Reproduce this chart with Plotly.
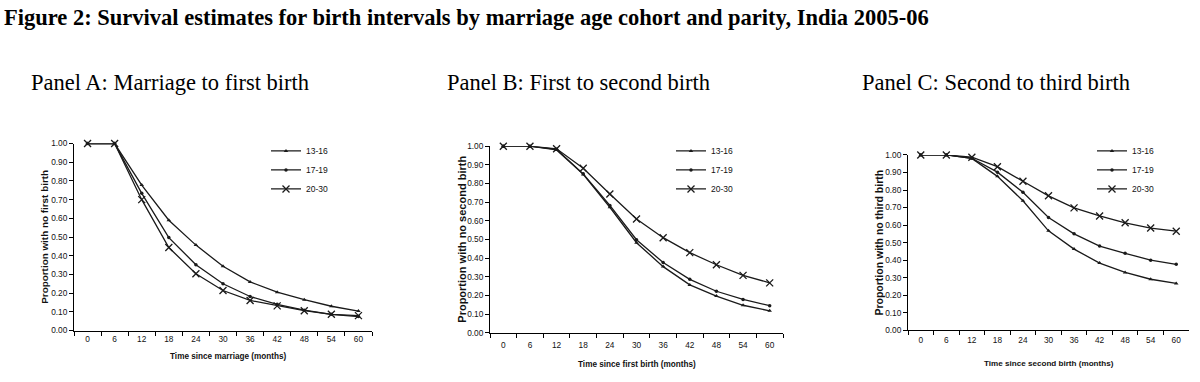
import plotly.graph_objects as go

months = ["0", "6", "12", "18", "24", "30", "36", "42", "48", "54", "60"]
cohorts = ["13-16", "17-19", "20-30"]

# Panel A: Marriage to first birth
a_13_16 = [1.00, 1.00, 0.778, 0.590, 0.457, 0.344, 0.260, 0.205, 0.165, 0.130, 0.104]
a_17_19 = [1.00, 1.00, 0.734, 0.497, 0.352, 0.250, 0.182, 0.140, 0.109, 0.087, 0.075]
a_20_30 = [1.00, 1.00, 0.700, 0.444, 0.304, 0.214, 0.161, 0.132, 0.106, 0.087, 0.080]

# Panel B: First to second birth
b_13_16 = [1.00, 1.00, 0.980, 0.849, 0.673, 0.483, 0.355, 0.257, 0.197, 0.148, 0.118]
b_17_19 = [1.00, 1.00, 0.983, 0.852, 0.683, 0.499, 0.377, 0.287, 0.223, 0.179, 0.146]
b_20_30 = [1.00, 1.00, 0.986, 0.882, 0.744, 0.610, 0.510, 0.430, 0.365, 0.308, 0.268]

# Panel C: Second to third birth
c_13_16 = [1.00, 1.00, 0.980, 0.878, 0.739, 0.567, 0.463, 0.383, 0.330, 0.291, 0.267]
c_17_19 = [1.00, 1.00, 0.981, 0.902, 0.787, 0.643, 0.550, 0.480, 0.439, 0.400, 0.376]
c_20_30 = [1.00, 1.00, 0.987, 0.933, 0.850, 0.767, 0.698, 0.652, 0.613, 0.583, 0.565]

main_title = "Figure 2: Survival estimates for birth intervals by marriage age cohort and parity, India 2005-06"
panel_titles = ["Panel A: Marriage to first birth", "Panel B: First to second birth", "Panel C: Second to third birth"]
x_titles = ["Time since marriage (months)", "Time since first birth (months)", "Time since second birth (months)"]
y_titles = ["Proportion with no first birth", "Proportion with no second birth", "Proportion with no third birth"]

W, H = 1200, 382
SANS = "Liberation Sans, Arial, sans-serif"
SERIF = "Liberation Serif, Times New Roman, serif"
LINE = "#1a1a1a"
TXT = "#111"

def px_x(p):
    return p / W

def px_y(p):
    return 1 - p / H

# pixel geometry for each panel: (x0, x1, y_at_0, y_at_1)
panels = [
    (74, 372, 334.3, 142.3),
    (490, 783, 336.7, 145.0),
    (908, 1189, 334.0, 154.0),
]
x_label_standoff = [0, 4, 2]
legend_pos = [(266, 135), (671, 135), (1092, 135)]
ytitle_pos = [(45, 238), (462, 241), (879, 244)]
ytitle_size = [9.9, 11, 10.5]
xtitle_pos = [(228, 360.5), (637, 369.5), (1049, 368)]
xtitle_size = [8.2, 8.2, 8.1]
ptitle_pos = [(170, 80), (578, 80), (996, 80)]

series = [
    [a_13_16, a_17_19, a_20_30],
    [b_13_16, b_17_19, b_20_30],
    [c_13_16, c_17_19, c_20_30],
]
markers = [
    dict(symbol="triangle-up", size=4, color=LINE),
    dict(symbol="circle", size=3.5, color=LINE),
    dict(symbol="x-thin", size=7, color=LINE, line=dict(width=1.3, color=LINE)),
]

fig = go.Figure()
for i, panel_series in enumerate(series):
    sfx = "" if i == 0 else str(i + 1)
    for j, vals in enumerate(panel_series):
        fig.add_trace(go.Scatter(
            x=months, y=vals, name=cohorts[j], mode="lines+markers",
            line=dict(color=LINE, width=1.3), marker=markers[j],
            xaxis="x" + sfx, yaxis="y" + sfx,
            legend="legend" + sfx, cliponaxis=False,
        ))

layout = dict(
    width=W, height=H, margin=dict(l=0, r=0, t=0, b=0),
    paper_bgcolor="white", plot_bgcolor="white", showlegend=True,
    font=dict(family=SANS, size=8, color=TXT),
)
annotations = [dict(text="<b>" + main_title + "</b>", x=px_x(2), y=px_y(13), xref="paper", yref="paper",
                    xanchor="left", yanchor="middle", showarrow=False,
                    font=dict(family=SERIF, size=22.5, color="black"))]
for i, (x0, x1, y0, y1) in enumerate(panels):
    sfx = "" if i == 0 else str(i + 1)
    layout["xaxis" + sfx] = dict(
        domain=[px_x(x0), px_x(x1)], anchor="y" + sfx, type="category",
        range=[-0.5, 10.5], tickson="boundaries", ticks="outside", ticklen=4,
        ticklabelstandoff=x_label_standoff[i],
        tickcolor="black", showline=True, linecolor="black", linewidth=1,
        showgrid=False, zeroline=False, tickfont=dict(family=SANS, size=8.3, color=TXT),
    )
    layout["yaxis" + sfx] = dict(
        domain=[px_y(y0), px_y(y1)], anchor="x" + sfx, range=[0, 1.0],
        dtick=0.1, tick0=0, tickformat=".2f", ticks="outside", ticklen=4,
        tickcolor="black", showline=True, linecolor="black", linewidth=1,
        showgrid=False, zeroline=False, tickfont=dict(family=SANS, size=8.3, color=TXT),
    )
    lx, ly = legend_pos[i]
    layout["legend" + sfx] = dict(
        x=px_x(lx), y=px_y(ly), xanchor="left", yanchor="top",
        bgcolor="rgba(0,0,0,0)", font=dict(family=SANS, size=8.5, color=TXT),
        tracegroupgap=0, itemwidth=30,
    )
    tx, ty = ytitle_pos[i]
    annotations.append(dict(text="<b>" + y_titles[i] + "</b>", x=px_x(tx), y=px_y(ty),
                            xref="paper", yref="paper", textangle=-90, showarrow=False,
                            xanchor="center", yanchor="middle",
                            font=dict(family=SANS, size=ytitle_size[i], color=TXT)))
    tx, ty = xtitle_pos[i]
    annotations.append(dict(text="<b>" + x_titles[i] + "</b>", x=px_x(tx), y=px_y(ty),
                            xref="paper", yref="paper", showarrow=False,
                            xanchor="center", yanchor="middle",
                            font=dict(family=SANS, size=xtitle_size[i], color=TXT)))
    tx, ty = ptitle_pos[i]
    annotations.append(dict(text=panel_titles[i], x=px_x(tx), y=px_y(ty),
                            xref="paper", yref="paper", showarrow=False,
                            xanchor="center", yanchor="middle",
                            font=dict(family=SERIF, size=22.5, color="black")))
layout["annotations"] = annotations
fig.update_layout(**layout)
fig.write_html("out.html", config={"displayModeBar": False},
               post_script="document.body.style.margin='0';document.body.style.overflow='hidden';")
